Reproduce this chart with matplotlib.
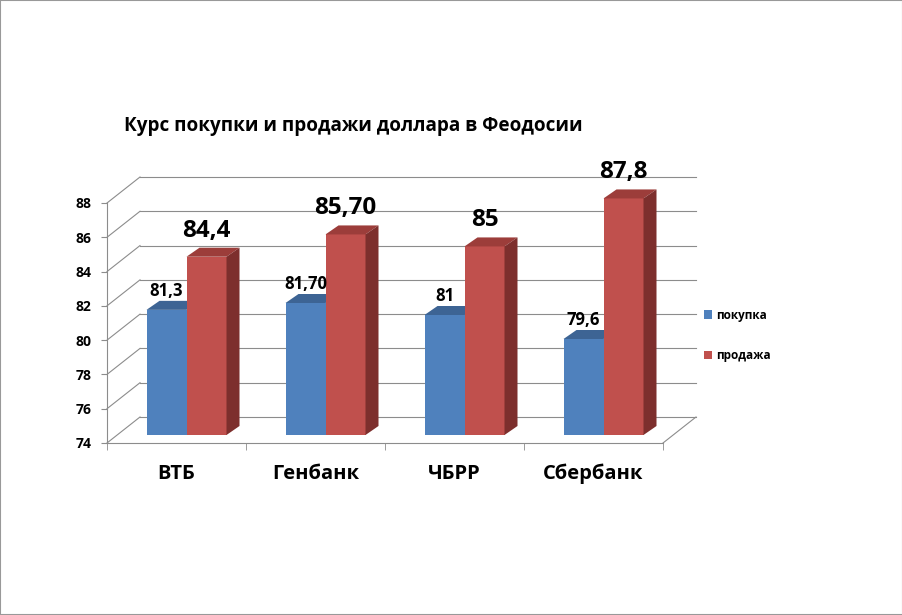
import matplotlib
matplotlib.use('Agg')
import matplotlib.pyplot as plt
from matplotlib.patches import Polygon, Rectangle, Patch

plt.rcParams['font.family'] = ['Open Sans', 'DejaVu Sans']

banks = ['ВТБ', 'Генбанк', 'ЧБРР', 'Сбербанк']
buy = [81.3, 81.7, 81.0, 79.6]
sell = [84.4, 85.7, 85.0, 87.8]
buy_lbl = ['81,3', '81,70', '81', '79,6']
sell_lbl = ['84,4', '85,70', '85', '87,8']
yticks = [74, 76, 78, 80, 82, 84, 86, 88]
series = ['покупка', 'продажа']

W, H = 903, 615
fig = plt.figure(figsize=(W/100, H/100), dpi=100)
# front plane of the 3d box, in pixels
L, R, B, T = 107, 663, 443, 203
ax = fig.add_axes([L/W, 1-B/H, (R-L)/W, (B-T)/H])
ymin, ymax = yticks[0], yticks[-1]
ax.set_xlim(0, len(banks)); ax.set_ylim(ymin, ymax)
pxx = (R-L)/len(banks); pxy = (B-T)/(ymax-ymin)
def d(px, py): return px/pxx, py/pxy  # pixel shift -> data shift

gcol = '#8c8c8c'
wx, wy = d(33, 26)   # back wall depth
fx, fy = d(10, 8)    # bar front offset
bx, by = d(13, 9)    # bar depth
bw = 40/pxx

# walls / grid
n = len(banks)
for v in yticks:
    ax.plot([wx, n+wx], [v+wy]*2, color=gcol, lw=0.8, clip_on=False, zorder=1)
    ax.plot([0, wx], [v, v+wy], color=gcol, lw=0.8, clip_on=False, zorder=1)
ax.plot([n, n+wx], [ymin, ymin+wy], color=gcol, lw=0.8, clip_on=False, zorder=1)

def bar3d(x0, v, front, top, side):
    ax.bar(x0, v-ymin, width=bw, bottom=ymin+fy, align='edge', color=front, zorder=3, lw=0, clip_on=False)
    y1 = v+fy
    ax.add_patch(Polygon([(x0, y1), (x0+bw, y1), (x0+bw+bx, y1+by), (x0+bx, y1+by)],
                         closed=True, fc=top, ec='none', zorder=3, clip_on=False))
    if side:
        ax.add_patch(Polygon([(x0+bw, ymin+fy), (x0+bw, y1), (x0+bw+bx, y1+by), (x0+bw+bx, ymin+fy+by)],
                             closed=True, fc=side, ec='none', zorder=3, clip_on=False))

for i in range(n):
    xb = i+0.5-bw+fx
    xr = i+0.5+fx
    bar3d(xb, buy[i], '#4F81BD', '#3D6494', None)
    bar3d(xr, sell[i], '#C0504D', '#9C3D3A', '#7D2F2D')
    ax.text(xb+bw/2, buy[i]+fy+by+0.05, buy_lbl[i], ha='center', va='bottom',
            fontsize=12, fontweight='bold', zorder=5, clip_on=False)
    ax.text(xr+bw/2, sell[i]+fy+by+0.3, sell_lbl[i], ha='center', va='bottom',
            fontsize=17.5, fontweight='bold', zorder=5, clip_on=False)

for s in ['top', 'right']:
    ax.spines[s].set_visible(False)
for s in ['left', 'bottom']:
    ax.spines[s].set_color(gcol); ax.spines[s].set_linewidth(0.8)
ax.set_yticks(yticks)
ax.set_yticklabels([str(t) for t in yticks], fontsize=10, fontweight='bold')
ax.tick_params(axis='y', length=4, color=gcol, pad=7)
ax.set_xticks([i+0.5 for i in range(n)])
ax.set_xticklabels(banks, fontsize=14.5, fontweight='bold')
ax.set_xticks(range(n+1), minor=True)
ax.tick_params(axis='x', which='major', length=0, pad=15)
ax.tick_params(axis='x', which='minor', length=5, color=gcol, direction='out')
ax.patch.set_alpha(0)

fig.text(353/W, 1-126/H, 'Курс покупки и продажи доллара в Феодосии', ha='center', va='center',
         fontsize=13.6, fontweight='bold')

handles = [Patch(fc='#4F81BD'), Patch(fc='#C0504D')]
fig.legend(handles, series, loc='upper left', bbox_to_anchor=(693/W, 1-298/H), frameon=False,
           handlelength=0.7, handleheight=0.7, handletextpad=0.35, labelspacing=2.3,
           prop={'size': 8.5, 'weight': 'bold'})

fig.add_artist(Rectangle((0, 0), 1, 1, transform=fig.transFigure, fill=False, ec='#999999', lw=1.5))
fig.savefig('out.png', dpi=100)
